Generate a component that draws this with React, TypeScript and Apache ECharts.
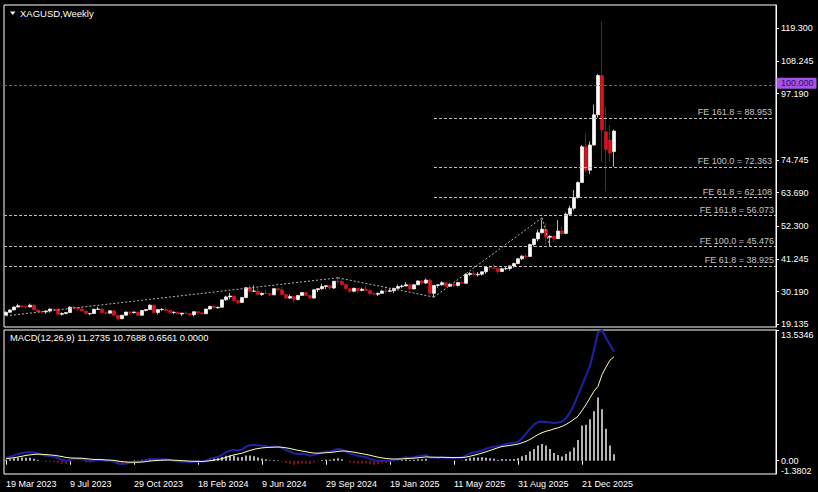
import React, { useEffect, useRef } from "react";
import * as echarts from "echarts";

// ---- time axis ----
const START_DATE = "2023-03-19";
const SLOT_COUNT = 193; // weekly slots shown across the chart (right part is empty)
const MONTHS = ["Jan", "Feb", "Mar", "Apr", "May", "Jun", "Jul", "Aug", "Sep", "Oct", "Nov", "Dec"];
const LABEL_EVERY = 16;

// ---- weekly XAGUSD candles ----
const OPEN = [
  22.3, 23.2, 24.0, 25.0, 25.4, 25.1, 25.0, 25.6, 24.0, 23.4,
  23.3, 23.6, 24.3, 24.2, 22.5, 22.8, 23.1, 24.9, 24.7, 24.3,
  23.6, 22.7, 22.8, 24.2, 24.3, 23.0, 22.9, 23.7, 22.2, 21.0,
  22.2, 23.3, 23.1, 23.3, 22.2, 23.8, 24.1, 25.6, 23.1, 24.1,
  24.2, 23.8, 23.1, 23.2, 22.6, 22.9, 22.8, 22.4, 23.4, 23.0,
  22.7, 24.3, 25.2, 24.7, 24.9, 27.4, 28.4, 28.7, 27.2, 26.5,
  28.2, 31.5, 30.3, 30.4, 29.2, 29.6, 29.5, 29.1, 31.2, 30.8,
  29.2, 28.0, 28.5, 27.5, 28.9, 29.9, 28.9, 28.0, 30.8, 31.2,
  31.9, 32.2, 31.4, 33.7, 33.6, 32.6, 31.2, 30.3, 31.3, 30.6,
  31.0, 30.6, 29.5, 29.3, 29.6, 30.4, 30.3, 30.5, 31.3, 31.9,
  32.1, 32.5, 31.1, 32.5, 33.8, 33.1, 34.1, 29.6, 32.3, 32.5,
  33.2, 32.0, 32.7, 32.3, 33.3, 33.0, 36.0, 36.3, 35.9, 36.1,
  36.9, 38.4, 38.2, 38.1, 37.0, 37.9, 38.0, 38.9, 39.7, 41.3,
  42.2, 42.1, 46.1, 48.0, 50.1, 51.3, 48.6, 48.9, 48.1, 50.7,
  49.9, 56.4, 58.4, 62.0, 67.1, 79.2, 71.3, 79.8, 90.0, 103.3,
  84.3, 81.5, 77.6,
];
const HIGH = [
  23.5, 24.2, 25.1, 26.1, 25.6, 25.3, 26.1, 26.1, 24.2, 23.6,
  23.9, 24.4, 24.4, 24.3, 23.2, 23.2, 25.3, 25.3, 24.8, 25.0,
  23.8, 23.0, 24.4, 25.0, 24.5, 23.3, 23.9, 23.8, 22.3, 22.2,
  23.3, 23.5, 23.4, 23.3, 24.0, 24.2, 25.9, 25.9, 24.3, 24.6,
  24.6, 24.0, 23.5, 23.5, 23.0, 23.5, 22.9, 23.5, 23.5, 23.2,
  24.4, 25.4, 25.8, 25.1, 27.5, 28.8, 29.8, 28.8, 27.4, 28.4,
  31.7, 32.5, 32.3, 31.5, 29.9, 31.0, 29.7, 31.3, 31.6, 31.8,
  29.4, 29.2, 28.6, 29.0, 30.0, 30.2, 29.0, 30.9, 31.3, 32.7,
  32.3, 32.3, 33.8, 34.9, 34.5, 32.8, 31.4, 31.5, 31.4, 31.5,
  32.4, 30.9, 29.9, 29.9, 30.8, 31.6, 31.3, 31.5, 32.6, 32.6,
  33.4, 32.8, 32.7, 34.0, 34.2, 34.6, 34.6, 32.4, 32.8, 33.7,
  33.4, 33.0, 33.0, 33.4, 33.7, 36.4, 36.8, 37.3, 36.8, 37.0,
  38.5, 39.1, 39.5, 38.3, 38.3, 38.7, 39.1, 40.0, 41.6, 42.5,
  43.0, 46.4, 48.1, 51.2, 54.5, 53.5, 49.3, 49.3, 54.4, 52.2,
  57.0, 59.3, 64.6, 67.5, 79.8, 83.8, 81.0, 93.5, 103.8, 121.6,
  92.8, 86.6, 85.0,
];
const LOW = [
  22.0, 23.0, 23.8, 24.8, 24.8, 24.5, 24.9, 23.9, 23.3, 22.7,
  22.7, 23.1, 23.7, 22.4, 22.1, 22.5, 23.0, 24.5, 23.6, 23.5,
  22.6, 22.2, 22.8, 24.0, 22.9, 22.3, 22.8, 22.0, 20.7, 20.9,
  22.1, 22.6, 22.7, 22.0, 22.1, 23.5, 24.0, 23.0, 22.5, 23.6,
  23.7, 22.9, 22.6, 22.5, 22.0, 22.7, 21.9, 21.9, 22.6, 22.3,
  22.7, 24.1, 24.5, 24.4, 24.9, 27.1, 27.6, 26.6, 26.0, 26.4,
  27.9, 30.0, 30.1, 29.1, 28.7, 29.4, 28.6, 29.0, 30.3, 29.0,
  27.5, 27.7, 26.5, 27.2, 28.8, 28.8, 27.7, 27.8, 30.0, 30.8,
  31.0, 30.8, 31.1, 32.6, 32.2, 30.9, 29.7, 30.0, 29.6, 30.3,
  30.5, 28.8, 29.1, 28.7, 29.5, 29.6, 30.1, 29.7, 31.2, 31.3,
  32.0, 30.8, 31.0, 32.4, 32.6, 32.8, 29.5, 28.3, 31.5, 32.2,
  31.8, 31.9, 31.7, 31.9, 32.8, 32.9, 35.5, 35.7, 35.3, 35.6,
  36.2, 37.2, 37.9, 36.2, 36.9, 37.4, 37.3, 38.3, 39.6, 40.9,
  41.3, 42.0, 45.5, 47.2, 49.9, 45.9, 45.5, 46.9, 48.0, 49.3,
  49.6, 56.1, 57.7, 61.6, 67.0, 70.5, 70.0, 79.6, 89.0, 74.0,
  64.1, 74.2, 72.5,
];
const CLOSE = [
  23.2, 24.0, 25.0, 25.4, 25.1, 25.0, 25.6, 24.0, 23.4, 23.3,
  23.6, 24.3, 24.2, 22.5, 22.8, 23.1, 24.9, 24.7, 24.3, 23.6,
  22.7, 22.8, 24.2, 24.3, 23.0, 22.9, 23.7, 22.2, 21.0, 22.2,
  23.3, 23.1, 23.3, 22.2, 23.8, 24.1, 25.6, 23.1, 24.1, 24.2,
  23.8, 23.1, 23.2, 22.6, 22.9, 22.8, 22.4, 23.4, 23.0, 22.7,
  24.3, 25.2, 24.7, 24.9, 27.4, 28.4, 28.7, 27.2, 26.5, 28.2,
  31.5, 30.3, 30.4, 29.2, 29.6, 29.5, 29.1, 31.2, 30.8, 29.2,
  28.0, 28.5, 27.5, 28.9, 29.9, 28.9, 28.0, 30.8, 31.2, 31.9,
  32.2, 31.4, 33.7, 33.6, 32.6, 31.2, 30.3, 31.3, 30.6, 31.0,
  30.6, 29.5, 29.3, 29.6, 30.4, 30.3, 30.5, 31.3, 31.9, 32.1,
  32.5, 31.1, 32.5, 33.8, 33.1, 34.1, 29.6, 32.3, 32.5, 33.2,
  32.0, 32.7, 32.3, 33.3, 33.0, 36.0, 36.3, 35.9, 36.1, 36.9,
  38.4, 38.2, 38.1, 37.0, 37.9, 38.0, 38.9, 39.7, 41.3, 42.2,
  42.1, 46.1, 48.0, 50.1, 51.3, 48.6, 48.9, 48.1, 50.7, 49.9,
  56.4, 58.4, 62.0, 67.1, 79.2, 71.3, 79.8, 90.0, 103.3, 84.9,
  78.2, 77.1, 84.512,
];

// ---- MACD(12,26,9) pane ----
const MACD_MAIN = [
  0.30, 0.40, 0.55, 0.70, 0.80, 0.85, 0.90, 0.85, 0.75, 0.60,
  0.50, 0.45, 0.40, 0.25, 0.10, 0.00, 0.10, 0.20, 0.22, 0.20,
  0.05, -0.05, 0.02, 0.10, 0.05, -0.02, 0.00, -0.10, -0.30, -0.35,
  -0.30, -0.22, -0.15, -0.15, -0.05, 0.05, 0.20, 0.15, 0.15, 0.15,
  0.12, 0.05, 0.00, -0.08, -0.10, -0.12, -0.15, -0.10, -0.10, -0.12,
  0.00, 0.20, 0.30, 0.38, 0.60, 0.85, 1.05, 1.10, 1.05, 1.15,
  1.45, 1.60, 1.65, 1.60, 1.55, 1.50, 1.42, 1.48, 1.45, 1.30,
  1.10, 0.95, 0.75, 0.70, 0.72, 0.65, 0.50, 0.60, 0.72, 0.85,
  0.95, 0.95, 1.10, 1.20, 1.15, 0.95, 0.75, 0.65, 0.50, 0.42,
  0.35, 0.18, 0.05, -0.02, 0.00, 0.00, 0.02, 0.08, 0.18, 0.25,
  0.35, 0.30, 0.35, 0.45, 0.50, 0.58, 0.30, 0.30, 0.30, 0.35,
  0.30, 0.30, 0.28, 0.32, 0.33, 0.55, 0.75, 0.85, 0.95, 1.05,
  1.25, 1.35, 1.45, 1.50, 1.60, 1.70, 1.80, 1.85, 1.95, 2.30,
  2.80, 3.30, 3.75, 4.00, 4.05, 4.00, 3.95, 3.90, 3.95, 4.05,
  4.40, 5.00, 5.80, 6.80, 7.80, 8.80, 9.80, 11.50, 13.30, 13.5346,
  12.70, 12.00, 11.2735,
];
const MACD_SIGNAL = [
  0.20, 0.25, 0.30, 0.38, 0.46, 0.54, 0.60, 0.65, 0.67, 0.66,
  0.63, 0.60, 0.56, 0.50, 0.42, 0.34, 0.29, 0.27, 0.26, 0.25,
  0.21, 0.16, 0.13, 0.12, 0.11, 0.08, 0.06, 0.03, -0.04, -0.10,
  -0.14, -0.16, -0.16, -0.16, -0.14, -0.10, -0.04, 0.00, 0.03, 0.05,
  0.07, 0.07, 0.05, 0.03, 0.00, -0.02, -0.05, -0.06, -0.07, -0.08,
  -0.06, -0.01, 0.05, 0.12, 0.21, 0.34, 0.48, 0.60, 0.69, 0.78,
  0.92, 1.06, 1.18, 1.26, 1.32, 1.36, 1.38, 1.40, 1.41, 1.39,
  1.33, 1.26, 1.16, 1.07, 1.00, 0.93, 0.84, 0.79, 0.78, 0.79,
  0.82, 0.85, 0.90, 0.96, 1.00, 0.99, 0.94, 0.88, 0.80, 0.72,
  0.65, 0.56, 0.46, 0.36, 0.29, 0.23, 0.19, 0.17, 0.17, 0.18,
  0.22, 0.24, 0.26, 0.30, 0.34, 0.39, 0.37, 0.36, 0.35, 0.35,
  0.34, 0.33, 0.32, 0.32, 0.32, 0.37, 0.46, 0.56, 0.67, 0.79,
  0.92, 1.06, 1.20, 1.34, 1.46, 1.52, 1.58, 1.64, 1.72, 1.85,
  2.00, 2.20, 2.45, 2.70, 2.90, 3.05, 3.15, 3.30, 3.40, 3.55,
  3.75, 4.00, 4.30, 4.60, 5.20, 5.80, 6.50, 7.20, 7.70, 8.90,
  9.70, 10.40, 10.7688,
];
const MACD_HIST = [
  0.10, 0.15, 0.25, 0.30, 0.34, 0.31, 0.30, 0.20, 0.08, -0.06,
  -0.13, -0.15, -0.16, -0.25, -0.32, -0.34, -0.19, -0.07, -0.04, -0.05,
  -0.16, -0.21, -0.11, -0.02, -0.06, -0.10, -0.06, -0.13, -0.26, -0.25,
  -0.16, -0.06, 0.01, 0.01, 0.09, 0.15, 0.24, 0.15, 0.12, 0.10,
  0.05, -0.02, -0.05, -0.11, -0.10, -0.10, -0.10, -0.04, -0.03, -0.04,
  0.06, 0.21, 0.25, 0.26, 0.39, 0.51, 0.57, 0.50, 0.36, 0.37,
  0.53, 0.54, 0.47, 0.34, 0.23, 0.14, 0.04, 0.08, 0.04, -0.09,
  -0.23, -0.31, -0.41, -0.37, -0.28, -0.28, -0.34, -0.19, -0.06, 0.06,
  0.13, 0.10, 0.20, 0.24, 0.15, -0.04, -0.19, -0.23, -0.30, -0.30,
  -0.30, -0.38, -0.41, -0.38, -0.29, -0.23, -0.17, -0.09, 0.01, 0.07,
  0.13, 0.06, 0.09, 0.15, 0.16, 0.19, -0.07, -0.06, -0.05, 0.00,
  -0.04, -0.03, -0.04, 0.00, 0.01, 0.18, 0.30, 0.32, 0.33, 0.35,
  0.30, 0.25, 0.20, 0.07, 0.18, 0.14, 0.14, 0.18, 0.25, 0.45,
  0.60, 0.95, 1.22, 1.56, 1.73, 1.56, 1.22, 0.80, 0.60, 0.42,
  0.69, 0.95, 1.36, 2.15, 3.65, 3.73, 4.28, 5.11, 6.54, 5.32,
  3.31, 1.56, 0.6561,
];
const MACD_LEVEL = 0.0;

// ---- axes ----
const PRICE_MIN = 18.22;
const PRICE_MAX = 127.18;
const PRICE_TICKS = [119.3, 108.245, 97.19, 74.745, 63.69, 52.3, 41.245, 30.19, 19.135];
const MACD_MIN = -1.3802;
const MACD_MAX = 13.5346;
const MACD_TICKS = [13.5346, 0];

// ---- drawn objects ----
const ROUND_LEVEL = 100;
const LAST_PRICE = 84.512;
const FE_FULL_NAMES = ["FE 161.8", "FE 100.0", "FE 61.8"];
const FE_FULL_VALUES = [56.073, 45.476, 38.925];
const FE_PART_NAMES = ["FE 161.8", "FE 100.0", "FE 61.8"];
const FE_PART_VALUES = [88.953, 72.363, 62.108];
const FE_PART_START = 107;
const FE1_POINTS: [number, number][] = [[0, 22.0], [83, 34.87], [107, 28.33]];
const FE2_POINTS: [number, number][] = [[107, 28.33], [134, 55.15], [136, 45.51]];

const FONT = "Tahoma, 'Liberation Sans', Arial, sans-serif";

function weekLabel(i: number): string {
  const t = Date.parse(START_DATE + "T00:00:00Z") + i * 7 * 86400000;
  const d = new Date(t);
  return `${d.getUTCDate()} ${MONTHS[d.getUTCMonth()]} ${d.getUTCFullYear()}`;
}

export default function App() {
  const ref = useRef<HTMLDivElement>(null);

  useEffect(() => {
    if (!ref.current) return;
    const chart = echarts.init(ref.current, undefined, { renderer: "svg" });
    const n = OPEN.length;
    const categories = Array.from({ length: SLOT_COUNT }, (_, i) => weekLabel(i));
    const lastSlot = SLOT_COUNT - 1;
    const showLabel = (i: number) => i % LABEL_EVERY === 0 && i < n;

    const dashFE = { color: "#bdbdbd", type: [3, 2] as any, width: 1 };
    const feLabel = (text: string) => ({
      show: true,
      position: "insideEndTop",
      formatter: text,
      color: "#c4c4c4",
      fontSize: 9,
      fontFamily: FONT,
      distance: [2, 1],
    });
    const trendStyle = { color: "#b8b8b8", type: [2, 2] as any, width: 1 };

    const markData: any[] = [];
    markData.push({
      yAxis: ROUND_LEVEL,
      lineStyle: { color: "#5a5aa6", type: [3, 2], width: 1 },
      label: { show: false },
    });
    FE_FULL_VALUES.forEach((v, k) => {
      markData.push({
        yAxis: v,
        lineStyle: dashFE,
        label: feLabel(`${FE_FULL_NAMES[k]} = ${v.toFixed(3)}`),
      });
    });
    FE_PART_VALUES.forEach((v, k) => {
      markData.push([
        { coord: [FE_PART_START, v], lineStyle: dashFE, label: feLabel(`${FE_PART_NAMES[k]} = ${v.toFixed(3)}`) },
        { coord: [lastSlot, v] },
      ]);
    });
    [FE1_POINTS, FE2_POINTS].forEach((pts) => {
      for (let k = 0; k < pts.length - 1; k++) {
        markData.push([
          { coord: pts[k], lineStyle: trendStyle, label: { show: false } },
          { coord: pts[k + 1] },
        ]);
      }
    });
    markData.push({
      yAxis: LAST_PRICE,
      lineStyle: { opacity: 0 },
      label: {
        show: true,
        position: "end",
        formatter: LAST_PRICE.toFixed(3),
        backgroundColor: "#ffffff",
        color: "#000000",
        padding: [1, 3, 0, 3],
        lineHeight: 10,
        fontSize: 9,
        fontFamily: FONT,
        distance: 1,
      },
    });

    const macdTitle = `MACD(12,26,9) ${MACD_MAIN[n - 1].toFixed(4)} ${MACD_SIGNAL[n - 1].toFixed(4)} ${MACD_HIST[n - 1].toFixed(4)} ${MACD_LEVEL.toFixed(4)}`;

    const baseGraphic: any[] = [
      { type: "polygon", shape: { points: [[10, 11.5], [15.5, 11.5], [12.75, 15]] }, style: { fill: "#ffffff" } },
      { type: "text", x: 20, y: 13.5, style: { text: "XAGUSD,Weekly", fill: "#ffffff", font: `9.5px ${FONT}`, verticalAlign: "middle" } },
      { type: "text", x: 10, y: 337.5, style: { text: macdTitle, fill: "#ffffff", font: `9.3px ${FONT}`, verticalAlign: "middle" } },
      // minimum label of the MACD pane (MT4 draws it just above the pane's lower edge)
      { type: "text", x: 781, y: 470.5, style: { text: MACD_MIN.toFixed(4), fill: "#ffffff", font: `9px ${FONT}`, verticalAlign: "middle", lineHeight: 9 } },
    ];

    chart.setOption({
      animation: false,
      backgroundColor: "#000000",
      textStyle: { fontFamily: FONT },
      grid: [
        { left: 4, right: 42, top: 5, height: 322, show: true, borderColor: "#ffffff", borderWidth: 1, backgroundColor: "#000" },
        { left: 4, right: 42, top: 330, height: 144, show: true, borderColor: "#ffffff", borderWidth: 1, backgroundColor: "#000" },
      ],
      xAxis: [
        {
          type: "category", gridIndex: 0, data: categories, boundaryGap: true,
          axisLine: { show: false }, axisTick: { show: false }, axisLabel: { show: false }, splitLine: { show: false },
        },
        {
          type: "category", gridIndex: 1, data: categories, boundaryGap: true,
          axisLine: { show: false },
          axisTick: { show: true, interval: (i: number) => showLabel(i), alignWithLabel: true, length: 4, lineStyle: { color: "#ffffff" } },
          axisLabel: { show: true, interval: (i: number) => showLabel(i), color: "#ffffff", fontSize: 9, fontFamily: FONT, align: "left", margin: 5 },
          splitLine: { show: false },
        },
      ],
      yAxis: [
        {
          type: "value", gridIndex: 0, position: "right", min: PRICE_MIN, max: PRICE_MAX,
          axisLine: { show: true, lineStyle: { color: "#ffffff" } },
          axisTick: { show: true, customValues: PRICE_TICKS, length: 3, lineStyle: { color: "#ffffff" } },
          axisLabel: { show: true, customValues: PRICE_TICKS, formatter: (v: number) => v.toFixed(3), color: "#ffffff", fontSize: 9, lineHeight: 9, fontFamily: FONT, margin: 5, hideOverlap: false },
          splitLine: { show: false },
        },
        {
          type: "value", gridIndex: 1, position: "right", min: MACD_MIN, max: MACD_MAX,
          axisLine: { show: true, lineStyle: { color: "#ffffff" } },
          axisTick: { show: true, customValues: MACD_TICKS, length: 3, lineStyle: { color: "#ffffff" } },
          axisLabel: {
            show: true, customValues: MACD_TICKS,
            formatter: (v: number) => {
              if (Math.abs(v - MACD_MAX) < 1e-6) return "\n" + MACD_MAX.toFixed(4);
              return v.toFixed(2);
            },
            color: "#ffffff", fontSize: 9, fontFamily: FONT, margin: 5, lineHeight: 9, hideOverlap: false,
          },
          splitLine: { show: false },
        },
      ],
      graphic: baseGraphic,
      series: [
        {
          type: "candlestick",
          xAxisIndex: 0, yAxisIndex: 0,
          data: OPEN.map((o, i) => [o, CLOSE[i], LOW[i], HIGH[i]]),
          barWidth: 2.6,
          itemStyle: { color: "#ffffff", color0: "#d0161e", borderColor: "#ffffff", borderColor0: "#d0161e", borderWidth: 0.7 },
          markLine: { symbol: ["none", "none"], silent: true, animation: false, data: markData },
        },
        {
          type: "bar",
          xAxisIndex: 1, yAxisIndex: 1,
          barWidth: 1.4,
          data: MACD_HIST.map((v) => ({ value: v, itemStyle: { color: v >= 0 ? "#ffffff" : "#b01818" } })),
        },
        {
          type: "line", xAxisIndex: 1, yAxisIndex: 1, data: MACD_MAIN, symbol: "none",
          lineStyle: { color: "#2020a8", width: 2 },
        },
        {
          type: "line", xAxisIndex: 1, yAxisIndex: 1, data: MACD_SIGNAL, symbol: "none",
          lineStyle: { color: "#ffffa8", width: 1 },
        },
      ],
    });

    // Axis tag of the 100.000 level: placed through the price axis' own scale,
    // sitting slightly above its line as MT4 draws it.
    const yLevel = chart.convertToPixel({ yAxisIndex: 0 }, ROUND_LEVEL) as number;
    const axisX = chart.convertToPixel({ xAxisIndex: 0 }, lastSlot) as number + 2;
    chart.setOption({
      graphic: [
        ...baseGraphic,
        { type: "rect", shape: { x: axisX + 0.5, y: yLevel - 7.5, width: 40, height: 11 }, style: { fill: "#a552e6" }, z: 10 },
        { type: "text", x: axisX + 5, y: yLevel - 2.3, style: { text: ROUND_LEVEL.toFixed(3), fill: "#3c0a64", font: `9px ${FONT}`, verticalAlign: "middle" }, z: 11 },
      ],
    });
    return () => chart.dispose();
  }, []);

  return (
    <div style={{ position: "fixed", left: 0, top: 0, width: 818, height: 492, background: "#000" }}>
      <div ref={ref} style={{ width: 818, height: 492 }} />
    </div>
  );
}
